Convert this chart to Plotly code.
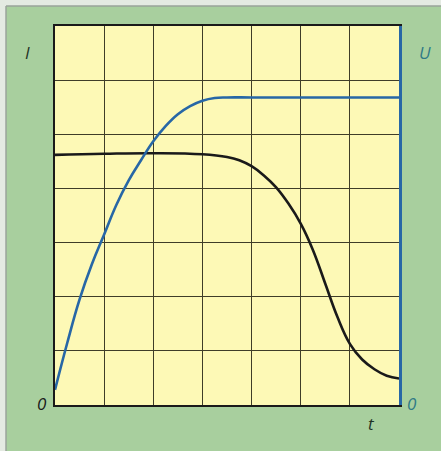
import plotly.graph_objects as go

# time axis in grid divisions
t_u = [0, 0.25, 0.5, 0.75, 1.0, 1.25, 1.5, 1.75, 2.0, 2.25, 2.5, 2.75, 3.0, 3.25, 3.5, 4.0, 5.0, 6.0, 7.0]
u_vals = [0.28, 1.15, 1.95, 2.6, 3.15, 3.7, 4.15, 4.52, 4.87, 5.15, 5.37, 5.52, 5.62, 5.67, 5.68,
          5.68, 5.68, 5.68, 5.68]

t_i = [0, 1.0, 2.0, 3.0, 3.5, 3.75, 4.0, 4.25, 4.5, 4.75, 5.0, 5.25, 5.5, 5.75, 6.0, 6.25, 6.5, 6.75, 7.0]
i_vals = [4.62, 4.64, 4.65, 4.63, 4.58, 4.52, 4.41, 4.24, 4.02, 3.72, 3.35, 2.86, 2.24, 1.62, 1.13,
          0.84, 0.66, 0.54, 0.49]

GREEN = "#a8cf9e"
YELLOW = "#fdf9b6"
GRID = "#3f3d28"
BLUE = "#2767a6"
TEAL = "#2f7a86"

fig = go.Figure()
fig.add_trace(go.Scatter(x=t_i, y=i_vals, mode="lines", line=dict(color="#1a1a1a", width=2.6, shape="spline", smoothing=1.2)))
fig.add_trace(go.Scatter(x=t_u, y=u_vals, mode="lines", yaxis="y2", line=dict(color=BLUE, width=2.6, shape="spline", smoothing=1.2)))

axis_common = dict(range=[0, 7], dtick=1, showticklabels=False, ticks="", showgrid=True,
                   gridcolor=GRID, gridwidth=1.2, zeroline=False, fixedrange=True)

fig.update_layout(
    width=441, height=451,
    margin=dict(l=55, r=42, t=26, b=46),
    paper_bgcolor=GREEN, plot_bgcolor=YELLOW,
    showlegend=False,
    xaxis=dict(**axis_common, showline=True, linecolor="#1a1a1a", linewidth=2, mirror=True),
    yaxis=dict(**axis_common, showline=True, linecolor="#1a1a1a", linewidth=2),
    yaxis2=dict(range=[0, 7], overlaying="y", side="right", showticklabels=False, ticks="",
                showgrid=False, zeroline=False, showline=True, linecolor=BLUE, linewidth=2.5),
    font=dict(family="Open Sans, Arial, sans-serif"),
)

# light strip outside the green frame, plus thin frame edge
fig.add_shape(type="rect", xref="paper", yref="paper", x0=-0.17, x1=-0.1424, y0=-0.13, y1=1.08,
              fillcolor="#e4eae2", line_width=0, layer="below")
fig.add_shape(type="rect", xref="paper", yref="paper", x0=-0.17, x1=1.14, y0=1.0528, y1=1.08,
              fillcolor="#e4eae2", line_width=0, layer="below")
fig.add_shape(type="line", xref="paper", yref="paper", x0=-0.1424, x1=-0.1424, y0=-0.13, y1=1.0528,
              line=dict(color="#9aa39a", width=1.5))
fig.add_shape(type="line", xref="paper", yref="paper", x0=-0.1424, x1=1.14, y0=1.0528, y1=1.0528,
              line=dict(color="#9aa39a", width=1.5))

labels = [
    ("I", -0.0785, 0.929, "#1f3326"),
    ("U", 1.0756, 0.929, TEAL),
    ("0", -0.038, 0.003, "#1a1a1a"),
    ("0", 1.038, 0.003, TEAL),
    ("t", 0.9215, -0.0475, "#1f3326"),
]
for txt, xp, yp, col in labels:
    fig.add_annotation(text=f"<i>{txt}</i>", x=xp, y=yp, xref="paper", yref="paper",
                       showarrow=False, font=dict(size=17, color=col), xanchor="center", yanchor="middle")

fig.write_html("out.html", config={"displayModeBar": False},
               post_script="document.body.style.margin='0';")
